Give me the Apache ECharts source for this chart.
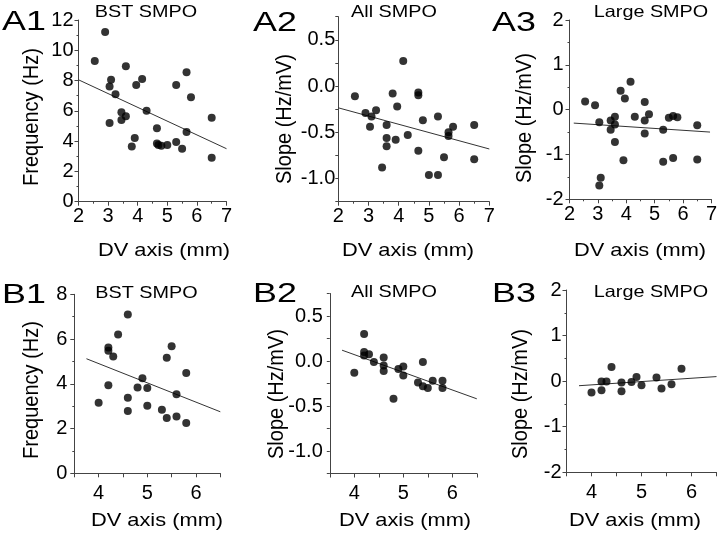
<!DOCTYPE html>
<html><head><meta charset="utf-8">
<script src="https://cdn.jsdelivr.net/npm/echarts@6/dist/echarts.min.js"></script>
<style>html,body{margin:0;padding:0;background:#fff}#c{width:720px;height:537px}</style>
</head><body><div id="c"></div>
<script>
// ---- data (x = DV axis mm, y = value) ----
const a1Points = [[2.55,9.3],[2.9,11.2],[3.05,7.6],[3.1,8.05],[3.25,7.1],[3.05,5.2],[3.45,5.9],[3.45,5.4],[3.6,5.65],[3.6,8.95],[3.8,3.65],[3.9,4.2],[3.95,7.7],[4.15,8.1],[4.3,6.0],[4.65,4.85],[4.65,3.85],[4.7,3.75],[4.8,3.7],[5.0,3.75],[5.3,7.7],[5.3,3.95],[5.5,3.5],[5.65,8.55],[5.65,4.6],[5.8,6.9],[6.5,5.55],[6.5,2.9]];
const a1Fit = [[2,8.05],[7,3.5]];
const a2Points = [[2.55,-0.11],[2.9,-0.29],[3.05,-0.44],[3.1,-0.33],[3.25,-0.26],[3.45,-0.88],[3.6,-0.42],[3.6,-0.56],[3.6,-0.65],[3.8,-0.08],[3.9,-0.58],[3.95,-0.22],[4.15,0.27],[4.3,-0.53],[4.65,-0.07],[4.65,-0.1],[4.65,-0.7],[4.8,-0.37],[5.0,-0.96],[5.3,-0.33],[5.3,-0.96],[5.5,-0.77],[5.65,-0.5],[5.65,-0.54],[5.8,-0.44],[6.5,-0.42],[6.5,-0.79]];
const a2Fit = [[2,-0.235],[7,-0.68]];
const a3Points = [[2.55,0.18],[2.9,0.1],[3.05,-0.28],[3.05,-1.69],[3.1,-1.52],[3.45,-0.24],[3.45,-0.45],[3.6,-0.16],[3.6,-0.33],[3.6,-0.72],[3.8,0.42],[3.95,0.25],[3.9,-1.13],[4.15,0.62],[4.3,-0.16],[4.65,0.17],[4.65,-0.24],[4.65,-0.53],[4.8,-0.1],[5.3,-0.45],[5.3,-1.16],[5.5,-0.18],[5.65,-0.14],[5.65,-1.08],[5.8,-0.17],[6.5,-0.35],[6.5,-1.11]];
const a3Fit = [[2.15,-0.3],[6.95,-0.5]];
const b1Points = [[4.0,3.15],[4.2,5.62],[4.2,5.48],[4.2,3.93],[4.3,5.22],[4.4,6.2],[4.6,7.1],[4.6,3.38],[4.6,2.78],[4.8,3.84],[4.9,4.25],[5.0,3.81],[5.0,3.02],[5.3,2.84],[5.4,5.16],[5.4,2.47],[5.5,5.68],[5.6,3.53],[5.6,2.54],[5.8,4.48],[5.8,2.25]];
const b1Fit = [[3.75,5.12],[6.5,2.75]];
const b2Points = [[4.0,-0.13],[4.2,0.3],[4.2,0.1],[4.2,0.06],[4.3,0.075],[4.4,-0.01],[4.6,0.04],[4.6,-0.05],[4.6,-0.11],[4.8,-0.42],[4.9,-0.09],[5.0,-0.06],[5.0,-0.16],[5.3,-0.24],[5.4,-0.01],[5.4,-0.28],[5.5,-0.3],[5.6,-0.22],[5.8,-0.22],[5.8,-0.3]];
const b2Fit = [[3.75,0.12],[6.5,-0.42]];
const b3Points = [[4.0,-0.25],[4.2,-0.01],[4.2,-0.2],[4.3,-0.01],[4.4,0.31],[4.6,-0.03],[4.6,-0.22],[4.8,-0.02],[4.9,0.09],[5.0,-0.09],[5.3,0.08],[5.4,-0.16],[5.6,-0.07],[5.8,0.27]];
const b3Fit = [[3.75,-0.1],[6.5,0.1]];

// axis ranges / tick steps
const xRangeA = [2, 7], xStepA = 1;
const xRangeB = [3.5, 6.5], xStepB = 0.5;
const yRangeFreqA = [0, 12], yRangeFreqB = [0, 8], yStepFreq = 2;
const yRangeAll = [-1.25, 0.75], yStepAll = 0.25;
const yRangeLarge = [-2, 2], yStepLarge = 1;

const panelLetters = ['A1','A2','A3','B1','B2','B3'];
const panelTitles = ['BST SMPO','All SMPO','Large SMPO','BST SMPO','All SMPO','Large SMPO'];
const xName = 'DV axis (mm)';
const yNames = ['Frequency (Hz)','Slope (Hz/mV)','Slope (Hz/mV)','Frequency (Hz)','Slope (Hz/mV)','Slope (Hz/mV)'];

// ---- layout ----
const grids = [
  {left:78.5, top:20, width:148, height:181.7},
  {left:338.3, top:16.7, width:151, height:185},
  {left:569.5, top:20, width:146, height:179.3},
  {left:74.3, top:294.3, width:146, height:179},
  {left:329.8, top:293.5, width:147, height:180},
  {left:566.5, top:290, width:150, height:182.3}
];
const FONT = "'Liberation Sans', Arial, sans-serif";
const AX = '#444';

function baseAxis(extra){
  return Object.assign({
    axisLine:{show:true, onZero:false, lineStyle:{color:AX, width:1}},
    axisTick:{show:true, length:4, lineStyle:{color:AX}},
    splitLine:{show:false},
    axisLabel:{color:'#000', fontSize:20, fontFamily:FONT}
  }, extra);
}
const isInt = v => Math.abs(v - Math.round(v)) < 1e-6;
const isHalf = v => Math.abs(v*2 - Math.round(v*2)) < 1e-6;

const xAxes = [], yAxes = [];
for (let i=0;i<6;i++){
  const rowA = i < 3;
  const xr = rowA ? xRangeA : xRangeB;
  const xa = baseAxis({type:'value', gridIndex:i, min:xr[0], max:xr[1], interval: rowA ? xStepA : xStepB});
  xa.axisLabel = Object.assign({}, xa.axisLabel, {margin: rowA ? 5 : 10, formatter: v => isInt(v) ? String(Math.round(v)) : ''});
  if (rowA) xa.minorTick = {show:true, splitNumber:2, length:2, lineStyle:{color:AX}};
  xAxes.push(xa);
  const kind = i % 3;
  let ya;
  if (kind === 0){
    const yr = rowA ? yRangeFreqA : yRangeFreqB;
    ya = baseAxis({type:'value', gridIndex:i, min:yr[0], max:yr[1], interval:yStepFreq});
    ya.minorTick = {show:true, splitNumber:2, length:2, lineStyle:{color:AX}};
    ya.axisLabel = Object.assign({}, ya.axisLabel, {margin: rowA ? 5 : 7, formatter: v => String(Math.round(v))});
  } else if (kind === 1){
    ya = baseAxis({type:'value', gridIndex:i, min:yRangeAll[0], max:yRangeAll[1], interval:yStepAll});
    ya.axisTick.length = 3;
    ya.axisLabel = Object.assign({}, ya.axisLabel, {margin: rowA ? 3 : 7, formatter: v => isHalf(v) ? v.toFixed(1).replace('-0.0','0.0') : ''});
  } else {
    ya = baseAxis({type:'value', gridIndex:i, min:yRangeLarge[0], max:yRangeLarge[1], interval:yStepLarge});
    ya.minorTick = {show:true, splitNumber:2, length:2, lineStyle:{color:AX}};
    ya.axisLabel = Object.assign({}, ya.axisLabel, {margin: rowA ? 6 : 5, formatter: v => String(Math.round(v))});
  }
  yAxes.push(ya);
}

const pts = [a1Points,a2Points,a3Points,b1Points,b2Points,b3Points];
const fits = [a1Fit,a2Fit,a3Fit,b1Fit,b2Fit,b3Fit];
const series = [];
for (let i=0;i<6;i++){
  series.push({type:'line', xAxisIndex:i, yAxisIndex:i, data:fits[i], symbol:'none', silent:true,
    lineStyle:{color:'#333', width:1}, z:2});
  series.push({type:'scatter', xAxisIndex:i, yAxisIndex:i, data:pts[i], symbol:'circle', symbolSize:8,
    itemStyle:{color:'#000'}, z:3});
}

// text placement
const letterPos = [[2,22],[253,23],[492,23],[2,295],[253,294.5],[492,294.5]];
const titlePos = [[146,12],[394,12],[651,12],[146.5,293],[394,292],[651,292.5]];
const xNamePos = [[164,250.5],[408,250.5],[640,250.5],[157,521],[405,521],[635,521]];
const yNamePos = [[32,117],[285,119],[525,118],[32,390],[277,394],[521,394]];

const graphic = [];
for (let i=0;i<6;i++){
  graphic.push({type:'text', x:letterPos[i][0], y:letterPos[i][1], scaleX:1.28,
    style:{text:panelLetters[i], fontSize:28, fontFamily:FONT, fill:'#000', align:'left', verticalAlign:'middle'}});
  graphic.push({type:'text', x:titlePos[i][0], y:titlePos[i][1], scaleX:1.2,
    style:{text:panelTitles[i], fontSize:16.5, fontFamily:FONT, fill:'#000', align:'center', verticalAlign:'middle'}});
  graphic.push({type:'text', x:xNamePos[i][0], y:xNamePos[i][1], scaleX:1.18,
    style:{text:xName, fontSize:18.5, fontFamily:FONT, fill:'#000', align:'center', verticalAlign:'middle'}});
  graphic.push({type:'text', x:yNamePos[i][0], y:yNamePos[i][1], rotation:Math.PI/2, scaleY:1.1,
    style:{text:yNames[i], fontSize:20, fontFamily:FONT, fill:'#000', align:'center', verticalAlign:'middle'}});
}

const chart = echarts.init(document.getElementById('c'), null, {renderer:'canvas'});
chart.setOption({
  animation:false,
  backgroundColor:'#fff',
  grid: grids.map(g => Object.assign({containLabel:false}, g)),
  xAxis: xAxes,
  yAxis: yAxes,
  series: series,
  graphic: graphic
});
</script>
</body></html>
